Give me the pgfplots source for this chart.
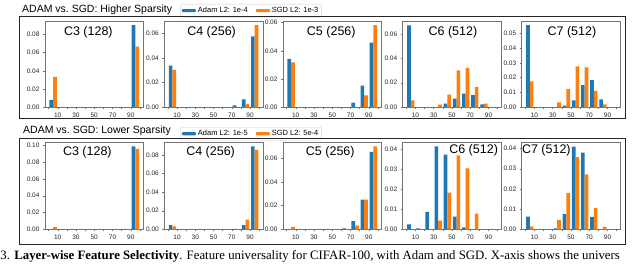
\documentclass[border=0pt]{standalone}
\usepackage{pgfplots}
\pgfplotsset{compat=1.18}
\usepackage{fontspec}
\setmainfont{Liberation Sans}
\newfontfamily\capfont{Liberation Serif}
\definecolor{mplblue}{HTML}{1F77B4}
\definecolor{mplorange}{HTML}{FF7F0E}
\pgfplotsset{
  panel/.style={
    scale only axis, width=98.5pt,
    xmin=-3.9, xmax=103.9, ymin=0,
    xtick={0,10,...,100},
    xticklabels={,10,,30,,50,,70,,90,},
    axis line style={draw=black!55, line width=0.6pt},
    every tick/.style={draw=black!55, line width=0.4pt},
    major tick length=2pt,
    tick align=outside,
    xtick pos=bottom, ytick pos=left,
    tick label style={font=\fontsize{6.5}{7}\selectfont, text=black!85},
    /pgf/number format/assume math mode=true,
    yticklabel style={/pgf/number format/.cd, fixed, fixed zerofill, precision=2},
    scaled y ticks=false,
  },
  bb/.style={ybar, bar width=4, bar shift=0pt, fill=mplblue, draw=none,
    legend image code/.code={\fill[mplblue] (0pt,-1.6pt) rectangle (14pt,1.6pt);}},
  bo/.style={ybar, bar width=4, bar shift=0pt, fill=mplorange, draw=none,
    legend image code/.code={\fill[mplorange] (0pt,-1.6pt) rectangle (14pt,1.6pt);}},
  leg/.style={legend style={at={(#1)}, anchor=north west, draw=black!20,
    rounded corners=1pt, font=\fontsize{7.5}{8}\selectfont, legend columns=2,
    inner sep=1pt, /tikz/every even column/.append style={column sep=6pt}},
    legend cell align=left},
}
\newcommand{\panel}[9]{%
\begin{axis}[panel, at={(#1pt,-#2pt)}, anchor=north west, height=#3pt, ymax=#4, ytick={#5}, #8]
#9
\node[font=\fontsize{12.5}{14}\selectfont] at (rel axis cs:#7) {#6};
\end{axis}}
\begin{document}
\begin{tikzpicture}
\useasboundingbox (0pt,0pt) rectangle (640pt,-263pt);
\clip (0pt,0pt) rectangle (640pt,-263pt);
\fill[white] (0pt,0pt) rectangle (640pt,-263pt);
% ---------- top row ----------
\panel{45}{21}{86}{0.095}{0,0.02,0.04,0.06,0.08}{C3 (128)}{0.44,0.865}{leg={1.378,1.198}}{%
\addplot[bb] coordinates {(3,0.0078) (93,0.0905)};
\addplot[bo] coordinates {(7,0.0333) (97,0.0667)};
\addlegendentry{Adam L2: 1e-4}
\addlegendentry{SGD L2: 1e-3}}
\panel{164.3}{21}{86}{0.0701}{0,0.02,0.04,0.06}{C4 (256)}{0.48,0.865}{}{%
\addplot[bb] coordinates {(3,0.0338) (73,0.0014) (83,0.0063) (93,0.0575)};
\addplot[bo] coordinates {(7,0.0303) (87,0.0025) (97,0.0668)};}
\panel{283}{21}{86}{0.0612}{0,0.02,0.04,0.06}{C5 (256)}{0.49,0.865}{}{%
\addplot[bb] coordinates {(3,0.0342) (73,0.0031) (83,0.0153) (93,0.0459)};
\addplot[bo] coordinates {(7,0.0318) (87,0.0083) (97,0.0583)};}
\panel{402.7}{21}{86}{0.0709}{0,0.02,0.04,0.06}{C6 (512)}{0.51,0.865}{}{%
\addplot[bb] coordinates {(3,0.0672) (43,0.0027) (53,0.0070) (63,0.0110) (73,0.0097) (83,0.0022)};
\addplot[bo] coordinates {(7,0.0054) (37,0.0020) (47,0.0102) (57,0.0302) (67,0.0322) (77,0.0164) (87,0.0027)};}
\panel{521.7}{21}{86}{0.0585}{0,0.01,0.02,0.03,0.04,0.05}{C7 (512)}{0.51,0.865}{}{%
\addplot[bb] coordinates {(3,0.0557) (43,0.0009) (53,0.0045) (63,0.0148) (73,0.0182) (83,0.0052)};
\addplot[bo] coordinates {(7,0.0175) (37,0.0032) (47,0.0123) (57,0.0277) (67,0.0270) (77,0.0109) (87,0.0018)};}
% ---------- bottom row ----------
\panel{45}{142.3}{87}{0.1037}{0,0.02,0.04,0.06,0.08,0.10}{C3 (128)}{0.43,0.89}{leg={1.378,1.175}}{%
\addplot[bb] coordinates {(83,0.0004) (93,0.0988)};
\addplot[bo] coordinates {(7,0.0027) (97,0.0958)};
\addlegendentry{Adam L2: 1e-5}
\addlegendentry{SGD L2: 5e-4}}
\panel{164.3}{142.3}{87}{0.0938}{0,0.02,0.04,0.06,0.08}{C4 (256)}{0.47,0.89}{}{%
\addplot[bb] coordinates {(3,0.0046) (73,0.0004) (83,0.0046) (93,0.0893)};
\addplot[bo] coordinates {(7,0.0031) (87,0.0103) (97,0.0856)};}
\panel{283}{142.3}{87}{0.0735}{0,0.02,0.04,0.06}{C5 (256)}{0.48,0.89}{}{%
\addplot[bb] coordinates {(43,0.0003) (63,0.0007) (73,0.0070) (83,0.0250) (93,0.0655)};
\addplot[bo] coordinates {(7,0.0020) (77,0.0031) (87,0.0250) (97,0.0700)};}
\panel{402.7}{142.3}{87}{0.0436}{0,0.01,0.02,0.03,0.04}{C6 (512)}{0.72,0.905}{}{%
\addplot[bb] coordinates {(3,0.0025) (13,0.0005) (23,0.0087) (33,0.0415) (43,0.0374) (53,0.0064) (63,0.0010)};
\addplot[bo] coordinates {(37,0.0044) (47,0.0184) (57,0.0370) (67,0.0305) (77,0.0078)};}
\panel{521.7}{142.3}{87}{0.0431}{0,0.01,0.02,0.03,0.04}{C7 (512)}{0.25,0.905}{}{%
\addplot[bb] coordinates {(3,0.0063) (33,0.0005) (43,0.0075) (53,0.0410) (63,0.0380) (73,0.0062)};
\addplot[bo] coordinates {(7,0.0015) (37,0.0047) (47,0.0180) (57,0.0358) (67,0.0272) (77,0.0105) (87,0.0012)};}
% ---------- frames and group titles ----------
\draw[black!85, line width=0.9pt] (19pt,-16pt) rectangle (625pt,-118pt);
\draw[black!85, line width=0.9pt] (19pt,-138.3pt) rectangle (625pt,-244pt);
\node[anchor=west, inner sep=0pt, font=\fontsize{10.5}{12}\selectfont] at (22pt,-9.3pt) {ADAM vs.\ SGD: Higher Sparsity};
\node[anchor=west, inner sep=0pt, font=\fontsize{10.5}{12}\selectfont] at (23pt,-130.3pt) {ADAM vs.\ SGD: Lower Sparsity};
% ---------- caption ----------
\node[anchor=base west, inner sep=0pt, font=\capfont\fontsize{12.8}{14}\selectfont] at (0.3pt,-259.8pt)
  {3. \textbf{Layer-wise Feature Selectivity}. Feature universality for CIFAR-100, with Adam and SGD. X-axis shows the univers};
\end{tikzpicture}
\end{document}
